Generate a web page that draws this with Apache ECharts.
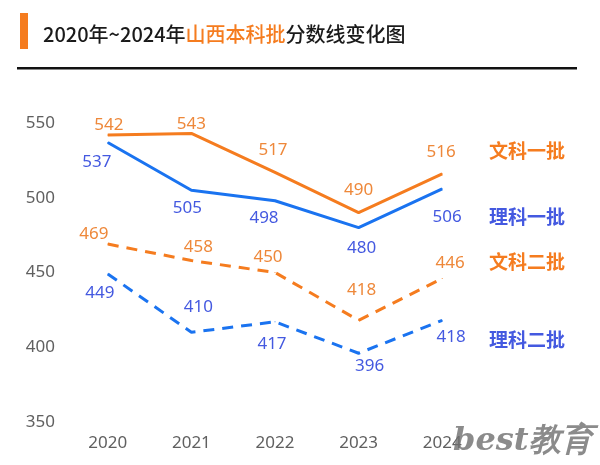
<!DOCTYPE html>
<html><head><meta charset="utf-8">
<script src="https://cdn.jsdelivr.net/npm/echarts@6/dist/echarts.min.js"></script>
<style>html,body{margin:0;padding:0;background:#fff}#c{width:600px;height:465px}</style>
</head><body><div id="c"></div>
<script>
var years = ['2020','2021','2022','2023','2024'];
var yTicks = [350, 400, 450, 500, 550];
var wenYi = [542, 543, 517, 490, 516];   // 文科一批
var liYi = [537, 505, 498, 480, 506];    // 理科一批
var wenEr = [469, 458, 450, 418, 446];   // 文科二批
var liEr = [449, 410, 417, 396, 418];    // 理科二批
var seriesNames = ['文科一批', '理科一批', '文科二批', '理科二批'];

var ORANGE = '#F57C1F', BLUE = '#1A73F0';
var LORANGE = '#EE883A', LBLUE = '#4459E0';

var offsets = {
  wenYi: [[1,-10],[0,-9],[-2,-22],[0,-23],[-1,-22]],
  liYi: [[-11,20],[-4,18],[-11,17],[3,21],[5,28]],
  wenEr: [[-14,-10],[7,-13],[-7,-15],[3,-30],[8,-15]],
  liEr: [[-8,19],[7,-25],[-3,22],[11,13],[9,17]]
};

function mk(name, vals, lineColor, labColor, dashed, offs) {
  return {
    name: name, type: 'line', smooth: false,
    symbol: 'circle', symbolSize: 1,
    itemStyle: { color: lineColor },
    lineStyle: { color: lineColor, width: 3, type: dashed ? [11, 8] : 'solid' },
    data: vals.map(function (v, i) {
      return { value: v, label: { offset: offs[i] } };
    }),
    label: { show: true, position: 'inside', color: labColor, fontSize: 17,
      fontFamily: 'Noto Sans', align: 'center', verticalAlign: 'middle' },
    emphasis: { disabled: true }, z: 3
  };
}

var chart = echarts.init(document.getElementById('c'));
chart.setOption({
  animation: false,
  backgroundColor: '#fff',
  title: {
    text: '{b|2020年~2024年}{o|山西本科批}{b|分数线变化图}',
    left: 38, top: 19,
    textStyle: {
      rich: {
        b: { fontSize: 20, fontWeight: 500, color: '#1a1a1a', fontFamily: 'Noto Sans CJK SC' },
        o: { fontSize: 20, fontWeight: 500, color: ORANGE, fontFamily: 'Noto Sans CJK SC' }
      }
    }
  },
  grid: { left: 66, right: 116, top: 123, bottom: 43 },
  xAxis: {
    type: 'category', data: years, boundaryGap: true,
    axisLine: { show: false }, axisTick: { show: false },
    axisLabel: { color: '#606060', fontSize: 17, margin: 13, fontFamily: 'Noto Sans' },
    splitLine: { show: false }
  },
  yAxis: {
    type: 'value', min: yTicks[0], max: yTicks[yTicks.length - 1], interval: 50,
    axisLine: { show: false }, axisTick: { show: false }, splitLine: { show: false },
    axisLabel: { color: '#606060', fontSize: 17, margin: 11, fontFamily: 'Noto Sans' }
  },
  series: [
    mk(seriesNames[0], wenYi, ORANGE, LORANGE, false, offsets.wenYi),
    mk(seriesNames[1], liYi, BLUE, LBLUE, false, offsets.liYi),
    mk(seriesNames[2], wenEr, ORANGE, LORANGE, true, offsets.wenEr),
    mk(seriesNames[3], liEr, BLUE, LBLUE, true, offsets.liEr)
  ],
  graphic: [
    { type: 'rect', shape: { x: 20, y: 13, width: 8, height: 36 }, style: { fill: ORANGE } },
    { type: 'rect', shape: { x: 17, y: 67, width: 560, height: 2.5 }, style: { fill: '#111' } },
    { type: 'text', x: 527, y: 151, style: { text: seriesNames[0], fill: ORANGE, font: 'bold 19px "Noto Sans CJK SC"', align: 'center', verticalAlign: 'middle' } },
    { type: 'text', x: 527, y: 217, style: { text: seriesNames[1], fill: LBLUE, font: 'bold 19px "Noto Sans CJK SC"', align: 'center', verticalAlign: 'middle' } },
    { type: 'text', x: 527, y: 262, style: { text: seriesNames[2], fill: ORANGE, font: 'bold 19px "Noto Sans CJK SC"', align: 'center', verticalAlign: 'middle' } },
    { type: 'text', x: 527, y: 340, style: { text: seriesNames[3], fill: LBLUE, font: 'bold 19px "Noto Sans CJK SC"', align: 'center', verticalAlign: 'middle' } },
    { type: 'text', x: 453, y: 442, z: 10, style: { text: 'best教育', fill: 'rgba(110,110,110,0.8)', font: 'italic bold 32px "DejaVu Serif"', align: 'left', verticalAlign: 'middle' } }
  ]
});
</script></body></html>
